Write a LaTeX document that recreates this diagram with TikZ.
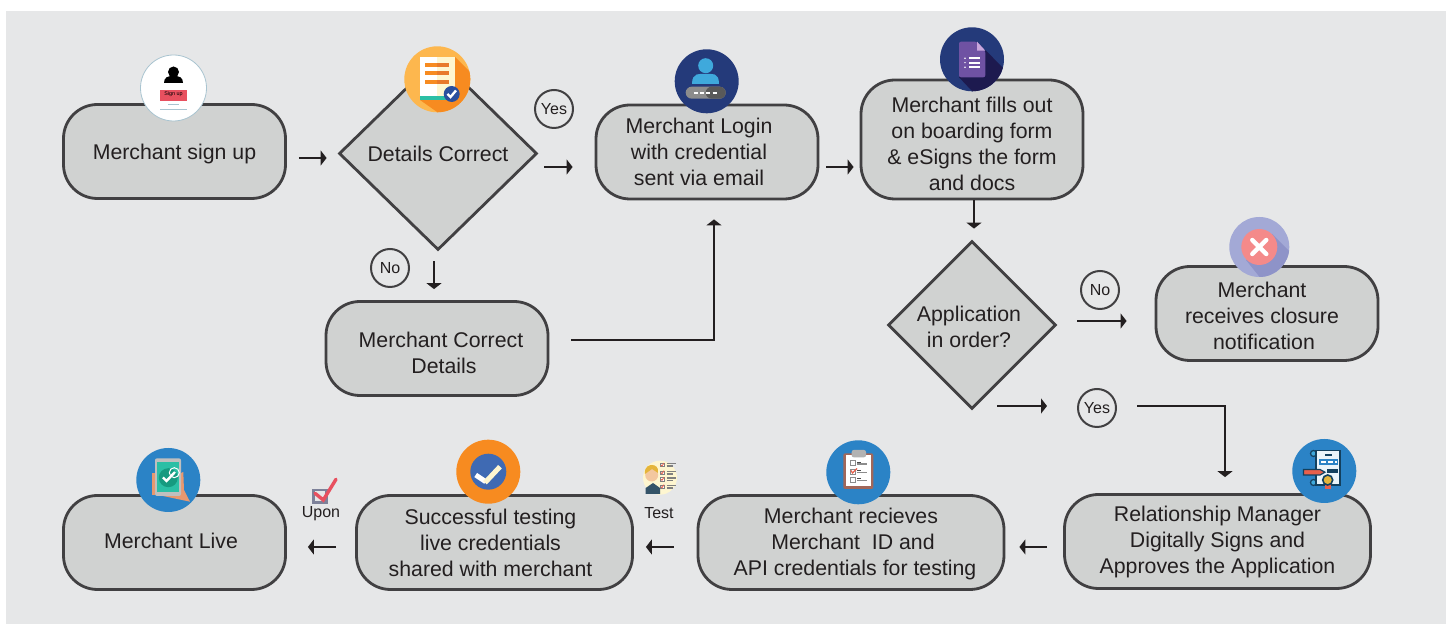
\documentclass[tikz,border=0pt]{standalone}
\usepackage{fontspec}
\setmainfont{Liberation Sans}
\usetikzlibrary{shapes.geometric,arrows.meta}
\definecolor{panelGray}{HTML}{E6E7E8}
\definecolor{boxGray}{HTML}{D0D2D1}
\definecolor{edgeGray}{HTML}{414042}
\definecolor{inkBlack}{HTML}{231F20}
\definecolor{navyIcon}{HTML}{243A7A}
\definecolor{navyShade}{HTML}{1D1A4F}
\definecolor{blueIcon}{HTML}{2B83C6}
\definecolor{skyIcon}{HTML}{3FA9DC}
\definecolor{orangeIcon}{HTML}{F78B20}
\definecolor{paleOrange}{HTML}{FDB74E}
\definecolor{rustIcon}{HTML}{E8792B}
\definecolor{creamIcon}{HTML}{FEF6D0}
\definecolor{tealIcon}{HTML}{2BBFA5}
\definecolor{roseIcon}{HTML}{E8505F}
\definecolor{lineBlue}{HTML}{A9C4D0}
\definecolor{badgeBlue}{HTML}{2A4F9E}
\definecolor{formViolet}{HTML}{6F52A3}
\definecolor{foldViolet}{HTML}{C9A6DC}
\definecolor{lilacIcon}{HTML}{A3A9D6}
\definecolor{lilacShade}{HTML}{8E93C8}
\definecolor{salmonIcon}{HTML}{F48A8A}
\definecolor{handIcon}{HTML}{E8986F}
\definecolor{screenDark}{HTML}{169A80}
\definecolor{testBlue}{HTML}{3F6AB3}
\definecolor{boxSlate}{HTML}{7D8199}
\definecolor{boardBrown}{HTML}{A1675A}
\definecolor{deepBlue}{HTML}{13405E}
\definecolor{paperBlue}{HTML}{EAF4FA}
\definecolor{penRed}{HTML}{E8604C}
\definecolor{sealGold}{HTML}{E5B53A}
\tikzset{process/.style = {rectangle, rounded corners=17pt, draw=edgeGray, fill=boxGray,
    line width=1.4pt, inner sep=0pt, align=center, text=inkBlack,
    font=\fontsize{10.65}{13}\selectfont},
  decision/.style = {diamond, draw=edgeGray, fill=boxGray, line width=1.4pt, inner sep=0pt,
    aspect=1, align=center, text=inkBlack, font=\fontsize{10.65}{13}\selectfont},
  answer/.style = {circle, draw=edgeGray, fill=panelGray, line width=1pt, minimum size=19pt,
    inner sep=0pt, text=inkBlack, font=\fontsize{8}{9}\selectfont},
  caption/.style = {inner sep=0pt, text=inkBlack, font=\fontsize{8}{9}\selectfont},
  flow/.style = {-{Triangle[width=7.5pt,length=3pt]}, line width=1.2pt, draw=inkBlack}}
\newcommand{\dropText}[1]{\rule{0pt}{#1}}
\newcommand{\padText}[1]{\rule{#1}{0pt}}

\begin{document}
\begin{tikzpicture}[x=0.5pt,y=-0.5pt]
  \useasboundingbox (0,0) rectangle (1453,624);
  \fill[panelGray] (6,11) rectangle (1446,624);

  \node[process, minimum width=111pt, minimum height=47pt] (signUp) at (174.5,151.5) {\dropText{9.8pt}Merchant sign up};
  \node[decision, minimum width=99pt, minimum height=96.5pt] (detailsCorrect) at (438,153.5) {Details Correct};
  \node[process, minimum width=111pt, minimum height=47pt] (merchantLogin) at (707,152) {Merchant Login\padText{8pt}\\with credential\padText{8pt}\\sent via email\padText{8pt}};
  \node[process, minimum width=111pt, minimum height=59.5pt] (onboardForm) at (972,139.5) {\dropText{12.1pt}Merchant fills out\\on boarding form\\\& eSigns the form\\and docs};
  \node[process, minimum width=111pt, minimum height=47pt] (correctDetails) at (437,348.5) {\dropText{12.1pt}\padText{4pt}Merchant Correct\\\padText{7pt}Details};
  \node[decision, minimum width=84pt, minimum height=84pt] (application) at (972,325) {\dropText{10pt}Application\padText{3pt}\\in order?\padText{3pt}};
  \node[process, minimum width=111pt, minimum height=47pt] (closure) at (1267,313.5) {\dropText{10.6pt}Merchant\padText{5pt}\\receives closure\padText{5pt}\\notification\padText{3pt}};
  \node[process, minimum width=153pt, minimum height=47pt] (relManager) at (1217.5,541.5) {\dropText{8.3pt}Relationship Manager\\Digitally Signs and\\Approves the Application};
  \node[process, minimum width=153pt, minimum height=47pt] (recieves) at (851,542.5) {\dropText{9.3pt}Merchant recieves\\\padText{2pt}Merchant\ \ ID and\\\padText{4pt}API credentials for testing};
  \node[process, minimum width=138pt, minimum height=47pt] (successful) at (494.5,542.5) {Successful testing\padText{4pt}\\live credentials\padText{4pt}\\shared with merchant\padText{4pt}};
  \node[process, minimum width=111pt, minimum height=47pt] (merchantLive) at (174.5,542.5) {\rule[-2pt]{0pt}{2pt}Merchant Live\padText{3.5pt}};

  \node[answer] (yesDetails) at (554,109) {Yes};
  \node[answer] (noDetails) at (390,268) {No};
  \node[answer] (noApp) at (1100,290) {No};
  \node[answer] (yesApp) at (1097,408) {Yes};
  \node[caption] (upon) at (321,513.5) {Upon};
  \node[caption] (test) at (659,513) {Test};

  \draw[flow, shorten <=6pt, shorten >=5.5pt] ([yshift=-3.25pt]signUp.east) -- ([yshift=-2.25pt]detailsCorrect.west);
  \draw[flow, shorten <=3pt, shorten >=11pt] ([yshift=-6.75pt]detailsCorrect.east) -- ([yshift=-7.5pt]merchantLogin.west);
  \draw[flow, shorten <=3.5pt, shorten >=3pt] ([yshift=-7.5pt]merchantLogin.east) -- ([yshift=-13.75pt]onboardForm.west);
  \draw[flow, shorten >=5.5pt] ([xshift=1pt]onboardForm.south) -- ([xshift=1pt]application.north);
  \draw[flow, shorten <=5pt, shorten >=5.5pt] ([xshift=-2pt]detailsCorrect.south) -- ([xshift=-1.5pt]correctDetails.north);
  \draw[flow, shorten <=11pt, shorten >=9.5pt] ([yshift=4.25pt]correctDetails.east) -| ([xshift=3.5pt]merchantLogin.south);
  \draw[flow, shorten <=10pt, shorten >=14pt] ([yshift=2pt]application.east) -- ([yshift=-3.75pt]closure.west);
  \draw[flow, shorten <=12.5pt, shorten >=15pt] ([yshift=1pt]application.south |- yesApp.west) -- ([yshift=1pt]yesApp.west);
  \draw[flow, shorten <=10pt, shorten >=8pt] ([yshift=1pt]yesApp.east) -| ([xshift=3.75pt]relManager.north);
  \draw[flow, shorten <=8pt, shorten >=7pt] ([yshift=-2.75pt]relManager.west) -- ([yshift=-2.25pt]recieves.east);
  \draw[flow, shorten <=11.5pt, shorten >=6pt] ([yshift=-2.25pt]recieves.west) -- ([yshift=-2.25pt]successful.east);
  \draw[flow, shorten <=9.5pt, shorten >=10.5pt] ([yshift=-2.25pt]successful.west) -- ([yshift=-2.25pt]merchantLive.east);

  % sign up icon
  \fill[white] (173.5,88) circle (33);
  \draw[color=lineBlue, line width=0.4pt] (173.5,88) circle (33);
  \fill[black] (173.5,72) circle (5.5);
  \fill[black] (164,83) .. controls (164,77) and (168,76) .. (173.5,76) .. controls (179,76) and (183,77) .. (183,83) -- cycle;
  \fill[roseIcon] (160,90) rectangle (187,101);
  \node[inner sep=0pt, font=\fontsize{2.7}{3}\selectfont] (signUpTag) at (173.5,94.5) {Sign up};
  \draw[color=lineBlue, line width=0.4pt] (168,104) -- (179,104) (160,109.5) -- (187,109.5);

  % details icon
  \fill[paleOrange] (437.3,79.3) circle (33);
  \begin{scope}
    \clip (437.3,79.3) circle (33);
    \fill[orangeIcon] (455,57) -- (495,97) -- (477,140) -- (420,100) -- cycle;
  \end{scope}
  \fill[white] (420,57) rectangle (437,100);
  \fill[creamIcon] (437,57) rectangle (455,100);
  \fill[tealIcon] (420,96) rectangle (447,100);
  \foreach \lineY in {65,72.7,81.7} {
    \fill[orangeIcon] (425,\lineY-2) rectangle (437,\lineY+2);
    \fill[rustIcon] (437,\lineY-2) rectangle (449,\lineY+2);
  }
  \fill[badgeBlue] (451.7,94) circle (8);
  \draw[white, line width=1.2pt] (447.5,94) -- (450.5,97) -- (456,90.5);

  % login icon
  \fill[navyIcon] (706.7,81.3) circle (32);
  \fill[skyIcon] (692,84) .. controls (692,72) and (700,74) .. (705.7,74) .. controls (712,74) and (719,72) .. (719,84) -- cycle;
  \fill[skyIcon] (705.7,65.7) circle (7.5);
  \fill[black!45, rounded corners=3pt] (685.7,86.7) rectangle (725.7,98.7);
  \fill[black!65, rounded corners=3pt] (705.7,86.7) rectangle (725.7,98.7);
  \draw[white, line width=1pt, dash pattern=on 2pt off 1.2pt] (693.5,92.7) -- (719,92.7);

  % form icon
  \fill[navyIcon] (972,59.3) circle (32);
  \begin{scope}
    \clip (972,59.3) circle (32);
    \fill[navyShade] (985.3,50) -- (1020,85) -- (990,110) -- (959,77.3) -- cycle;
  \end{scope}
  \fill[formViolet, rounded corners=1pt] (959,41.7) -- (977,41.7) -- (985.3,50.7) -- (985.3,77.3) -- (959,77.3) -- cycle;
  \fill[foldViolet] (977,41.7) -- (985.3,50.7) -- (977,50.7) -- cycle;
  \foreach \lineY in {58.3,62.7,67.3} {
    \fill[white] (969.3,\lineY-0.9) rectangle (980,\lineY+0.9);
    \fill[white] (965,\lineY) circle (0.8);
  }

  % closure icon
  \fill[lilacIcon] (1259.3,247) circle (30);
  \begin{scope}
    \clip (1259.3,247) circle (30);
    \fill[lilacShade] (1272,234) -- (1300,262) -- (1270,290) -- (1246,260) -- cycle;
  \end{scope}
  \fill[salmonIcon] (1259.3,247) circle (18);
  \draw[white, line width=2.2pt, line cap=round] (1252.3,240) -- (1266.3,254) (1266.3,240) -- (1252.3,254);

  % live icon
  \fill[blueIcon] (168.3,480) circle (32);
  \fill[handIcon] (152,473) -- (155,473) -- (155,495) -- (152,495) -- cycle;
  \fill[handIcon] (181,473) -- (183.3,472) -- (184,490) -- (190,501.7) -- (163,496) -- cycle;
  \fill[black!25, rounded corners=1pt] (155,458.3) rectangle (181,496);
  \fill[tealIcon] (156.7,461.7) rectangle (179.3,491.7);
  \fill[screenDark] (168.3,477.7) circle (9.5);
  \draw[white, line width=1.2pt] (163,477.5) -- (166.5,481) -- (175,472);
  \draw[white, line width=0.5pt] (174.3,472.7) circle (5);

  % upon check
  \draw[boxSlate, line width=1.4pt] (313.7,490) rectangle (326.3,502.3);
  \draw[roseIcon, line width=1.7pt, line cap=round] (315,493.3) -- (323.3,500) -- (336,479.3);

  % successful icon
  \fill[orangeIcon] (488.3,471.7) circle (32);
  \fill[testBlue] (488.3,471.7) circle (18);
  \draw[white, line width=2.5pt] (475.7,475) -- (485.7,481.7);
  \draw[creamIcon, line width=2.5pt] (485,482.7) -- (500,466.7);

  % test icon
  \fill[creamIcon] (660,477.7) circle (17);
  \fill[deepBlue!70!gray] (645.7,494) -- (645.7,488) -- (653,483) -- (660,488) -- (660,494) -- cycle;
  \fill[handIcon!50!creamIcon] (651.7,475) circle (6.5);
  \fill[sealGold] (645,474) .. controls (644,466) and (650,465) .. (652,465) .. controls (655,465) and (659,467) .. (658,473) -- (652,469) -- cycle;
  \foreach \lineY in {465,472.7,479.3,486.7} {
    \draw[black!50, fill=white, line width=0.3pt] (660.5,\lineY-1.8) rectangle (664.5,\lineY+1.8);
    \draw[black!50, line width=0.7pt] (666.7,\lineY-1.2) -- (676,\lineY-1.2) (666.7,\lineY+1.2) -- (673,\lineY+1.2);
    \draw[penRed, line width=0.4pt] (661,\lineY) -- (662,\lineY+1) -- (664,\lineY-2);
  }

  % clipboard icon
  \fill[blueIcon] (858.3,472.3) circle (32);
  \fill[boardBrown, rounded corners=1pt] (843.3,453.3) rectangle (873.3,489);
  \fill[white] (845.5,455.5) rectangle (871,486.5);
  \fill[black!30, rounded corners=1pt] (851.7,450) rectangle (866,457.3);
  \foreach \lineY in {463.3,471.7,480} {
    \draw[black!45, fill=white, line width=0.5pt] (850,\lineY-2.6) rectangle (855,\lineY+2.6);
    \draw[black!45, line width=0.6pt] (857,\lineY+0.8) -- (867.3,\lineY+0.8);
    \draw[black!70, line width=0.5pt] (857,\lineY-1.2) -- (861,\lineY-1.2);
  }
  \draw[penRed, line width=0.6pt] (851,470.5) -- (852.5,473) -- (857,468.5);

  % manager icon
  \fill[blueIcon] (1324.3,471) circle (32);
  \draw[deepBlue, line width=0.6pt, fill=skyIcon] (1313.5,453.5) circle (3) (1313.5,482.5) circle (3);
  \draw[deepBlue, fill=paperBlue, line width=0.8pt] (1316,450.7) rectangle (1340,485);
  \fill[deepBlue] (1324.5,454.5) rectangle (1332,456.3);
  \fill[blueIcon] (1319,459) rectangle (1338.3,465);
  \draw[white, line width=1pt, dash pattern=on 2.5pt off 1pt] (1321,462) -- (1336.5,462);
  \fill[deepBlue] (1327.3,469) rectangle (1338.3,472.7);
  \draw[deepBlue, fill=penRed, line width=0.6pt] (1303.5,469.5) -- (1320,469.5) -- (1325,472.2) -- (1320,475) -- (1303.5,475) -- cycle;
  \fill[penRed] (1325,483) rectangle (1330.7,489.3);
  \draw[deepBlue, fill=sealGold, line width=0.8pt] (1327.7,480) circle (5);
\end{tikzpicture}
\end{document}
